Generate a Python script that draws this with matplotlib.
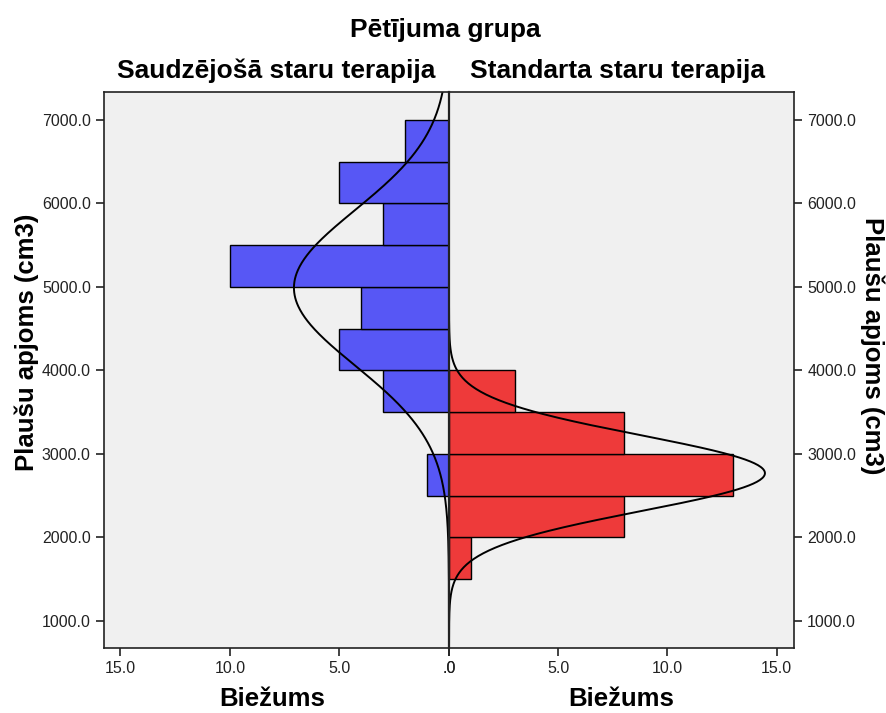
import numpy as np
import matplotlib.pyplot as plt

plt.rcParams['font.family'] = ['Liberation Sans', 'DejaVu Sans']

# bin lower edges (cm3), bin width 500
bin_starts = [1500, 2000, 2500, 3000, 3500, 4000, 4500, 5000, 5500, 6000, 6500]
bin_width = 500
counts_saudz = [0, 0, 1, 0, 3, 5, 4, 10, 3, 5, 2]
counts_stand = [1, 8, 13, 8, 3, 0, 0, 0, 0, 0, 0]

# normal curve parameters
mean_saudz, sd_saudz, n_saudz = 4990, 930, 33
mean_stand, sd_stand, n_stand = 2770, 455, 33

titles = ["Saudzējošā staru terapija", "Standarta staru terapija"]
yticks = [1000, 2000, 3000, 4000, 5000, 6000, 7000]
xticks = [0, 5, 10, 15]


def normal_counts(y, mean, sd, n):
    return n * bin_width / (sd * np.sqrt(2 * np.pi)) * np.exp(-0.5 * ((y - mean) / sd) ** 2)


W, H = 887, 713
fig = plt.figure(figsize=(W / 100, H / 100), dpi=100)
bg = '#f0f0f0'
ax_l = fig.add_axes([0.1172, 0.0912, 0.3890, 0.7798])
ax_r = fig.add_axes([0.5062, 0.0912, 0.3890, 0.7798])

ylim = (677, 7335)
yy = np.linspace(ylim[0], ylim[1], 600)

for ax, counts, color, (m, s, n) in [
        (ax_l, counts_saudz, '#5757f5', (mean_saudz, sd_saudz, n_saudz)),
        (ax_r, counts_stand, '#ee3a3a', (mean_stand, sd_stand, n_stand))]:
    ax.set_facecolor(bg)
    for b, c in zip(bin_starts, counts):
        if c > 0:
            ax.barh(b, c, height=bin_width, align='edge', color=color,
                    edgecolor='black', linewidth=1.0)
    ax.plot(normal_counts(yy, m, s, n), yy, color='black', lw=1.4)
    ax.set_ylim(*ylim)
    ax.set_yticks(yticks)
    ax.set_xticks(xticks)
    ax.set_xticklabels(['.0', '5.0', '10.0', '15.0'], fontsize=11.5)
    ax.tick_params(direction='out', length=6, width=1.2, colors='#222222')
    for sp in ax.spines.values():
        sp.set_linewidth(1.2)
        sp.set_color('#222222')

ax_l.set_xlim(15.75, 0)
ax_r.set_xlim(0, 15.8)

ax_l.set_yticklabels([f"{v:.1f}" for v in yticks], fontsize=11.5)
ax_r.yaxis.tick_right()
ax_r.set_yticklabels([f"{v:.1f}" for v in yticks], fontsize=11.5)
ax_l.spines['right'].set_visible(False)
ax_r.spines['left'].set_linewidth(1.6)

# labels and titles placed in figure pixel coordinates
def ftext(x, y, s, **kw):
    fig.text(x / W, 1 - y / H, s, fontweight='bold', **kw)

ftext(445, 37, "Pētījuma grupa", ha='center', va='baseline', fontsize=19)
ftext(276, 78, titles[0], ha='center', va='baseline', fontsize=19)
ftext(617, 78, titles[1], ha='center', va='baseline', fontsize=19)
ftext(272, 699, "Biežums", ha='center', va='center', fontsize=18.5)
ftext(621, 699, "Biežums", ha='center', va='center', fontsize=18.5)
ftext(27, 342, "Plaušu apjoms (cm3)", ha='center', va='center',
      rotation=90, fontsize=18.5)
ftext(872, 346, "Plaušu apjoms (cm3)", ha='center', va='center',
      rotation=270, fontsize=18.5)

fig.savefig('out.png', dpi=100, facecolor='white')
